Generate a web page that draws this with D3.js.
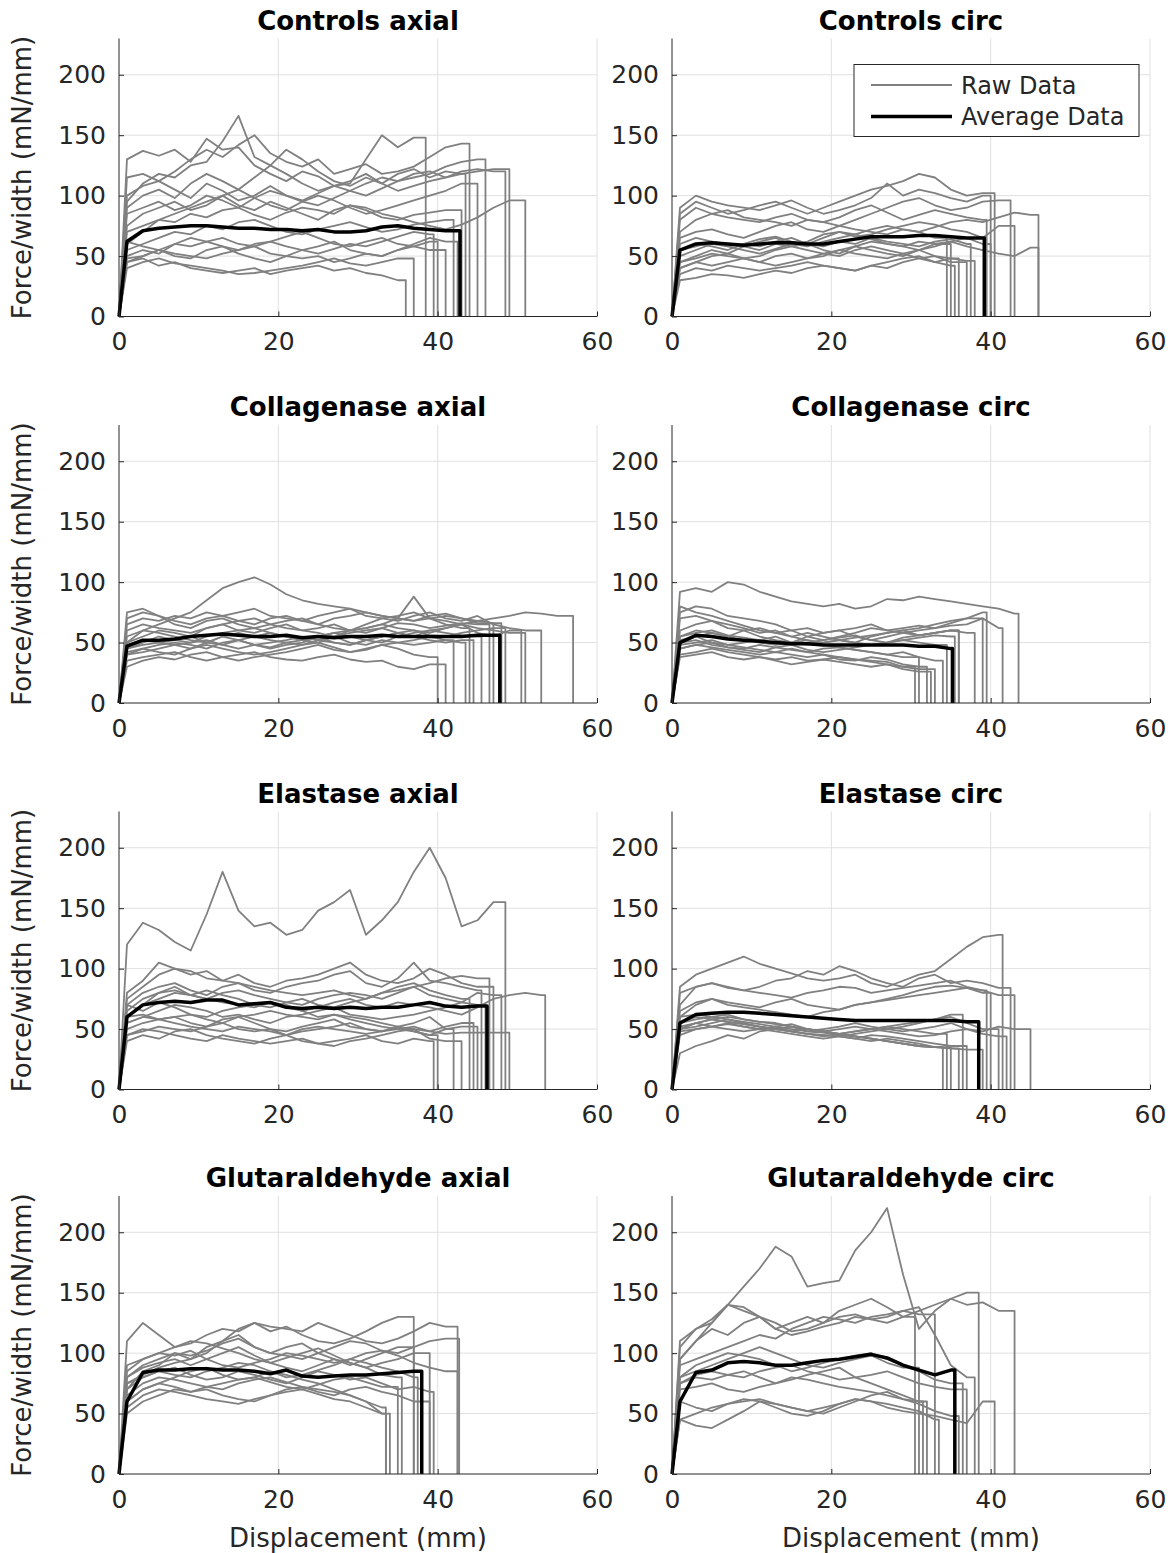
<!DOCTYPE html>
<html>
<head>
<meta charset="utf-8">
<script src="https://cdn.jsdelivr.net/npm/d3@7"></script>
<style>
  body { margin: 0; background: #fff; }
  text { font-family: "DejaVu Sans", sans-serif; fill: #262626; }
</style>
</head>
<body>
<div id="chart"></div>
<script>
// panel titles, ticks
var titles = [
  "Controls axial", "Controls circ",
  "Collagenase axial", "Collagenase circ",
  "Elastase axial", "Elastase circ",
  "Glutaraldehyde axial", "Glutaraldehyde circ"
];
var xTicks = [0, 20, 40, 60];
var yTicks = [0, 50, 100, 150, 200];

// each curve: [end displacement, force values at x = 1, 3, 5, ...]
var controlsAxialRaw = [
  [38.5, [130,137,133,138,128,147,138,140,125,118,112,120,116,108,110,130,150,140,148]],
  [44, [115,118,112,120,130,138,132,142,150,135,128,124,130,118,122,126,118,120,124,132,140,143]],
  [49, [95,110,118,115,125,128,145,166,132,125,138,130,120,112,108,115,110,118,122,115,120,118,120,122,118]],
  [51, [60,70,80,85,90,95,100,92,88,95,90,85,80,88,92,90,85,82,78,75,72,76,82,90,96,99]],
  [46, [100,108,112,105,98,110,104,96,100,108,100,95,92,98,104,100,106,112,115,118,124,128,130]],
  [48.5, [85,90,95,88,92,100,96,90,98,104,100,96,102,108,104,110,115,112,118,120,115,120,122,120,121]],
  [43, [70,75,80,78,85,82,88,90,84,80,86,90,88,85,92,88,82,80,84,86,88,90]],
  [42, [55,60,65,70,68,75,72,78,80,75,70,68,72,75,78,74,70,72,76,78,80]],
  [41, [50,55,52,60,58,62,65,60,58,62,66,70,65,60,58,62,65,60,58,55,60]],
  [40, [48,50,55,52,50,48,52,55,58,52,50,48,50,45,48,52,50,55,58,62]],
  [36, [45,48,42,45,40,38,36,38,40,35,38,40,42,38,40,36,34,30]],
  [37, [40,45,48,44,42,40,38,35,36,38,40,42,45,48,44,42,45,48,50]],
  [39.5, [62,58,55,60,65,62,58,55,60,62,58,55,52,56,60,58,62,66,70,68]],
  [42.5, [45,50,55,50,48,55,58,52,48,45,50,55,58,62,55,52,50,55,60,65,62,60]],
  [45, [75,85,90,95,88,92,100,105,98,92,88,95,100,96,90,85,88,92,96,100,104,110,112]],
  [43.5, [90,100,105,98,110,118,112,105,115,125,118,110,104,108,112,118,110,104,108,112,115,118]]
];
var controlsAxialAvg = [42.8, [62,71,73,74,75,75,74,73,73,72,72,71,72,70,70,71,74,75,73,72,71,71]];

var controlsCircRaw = [
  [40.5, [85,95,90,85,88,92,95,90,85,90,95,100,105,108,112,118,115,105,100,102]],
  [40, [90,100,95,92,90,88,92,96,90,85,88,92,98,110,100,105,102,98,95,100]],
  [46, [60,65,62,58,60,64,66,62,60,65,70,68,72,75,72,70,74,78,80,78,82,86,84]],
  [43, [55,58,62,60,58,62,65,60,62,68,70,66,68,72,75,78,76,72,70,65,75,86]],
  [46, [40,45,50,52,48,50,55,58,60,55,52,58,62,60,58,55,60,62,58,55,52,50,57]],
  [35, [50,55,60,58,55,52,56,60,58,62,65,68,64,60,58,62,60,55]],
  [36, [45,48,52,50,48,45,50,52,48,50,55,52,50,48,52,55,50,48]],
  [38, [35,40,38,42,40,38,40,42,45,42,40,38,42,45,48,50,45,48,46]],
  [37, [30,32,35,34,32,35,38,36,40,42,40,38,42,40,45,48,50,45,48]],
  [39.5, [70,80,85,82,80,78,82,85,80,78,82,88,92,86,80,84,88,85,82,80]],
  [34.5, [80,90,85,88,82,80,78,75,80,78,75,72,70,68,72,70,65]],
  [42.5, [65,70,72,68,65,70,75,78,72,70,75,80,85,90,95,98,92,88,90,95,96,88]],
  [35.5, [45,50,55,52,58,55,60,58,55,52,50,55,58,55,52,48,45,42]],
  [37.5, [55,60,58,55,60,58,62,65,60,58,62,60,65,62,60,58,62,64,60]],
  [40, [40,45,42,45,48,45,42,45,48,52,55,58,55,52,50,55,58,62,65,60]]
];
var controlsCircAvg = [39.2, [55,60,61,60,59,60,61,61,60,60,62,64,66,66,66,67,67,66,65,65]];

var collagenaseAxialRaw = [
  [48, [50,60,65,70,75,85,95,100,104,98,90,85,82,80,78,75,72,70,68,70,72,70,68,66]],
  [57, [45,50,55,52,50,55,58,60,62,58,55,52,55,58,60,62,65,62,60,58,62,65,68,70,72,75,74,72,70]],
  [53, [70,75,72,68,65,70,72,75,78,72,70,68,72,75,78,72,70,68,72,75,70,68,72,65,62,60,58]],
  [51, [75,78,72,65,62,68,70,65,62,65,68,70,65,62,60,65,70,72,75,70,68,65,62,60,58,56]],
  [40, [40,45,42,40,45,48,45,42,40,42,45,48,50,46,42,44,48,45,40,38]],
  [41, [35,38,40,42,38,35,38,40,42,38,36,35,38,40,36,34,35,30,28,32,30]],
  [44, [50,55,60,58,55,62,65,60,58,62,65,60,58,55,60,62,65,70,88,70,65,62]],
  [45.5, [45,48,50,52,55,50,48,52,55,58,55,52,50,55,58,60,62,58,55,60,58,56,55]],
  [46.5, [60,65,62,60,58,62,65,68,70,65,62,60,62,65,60,58,62,66,65,62,64,66,65,64]],
  [48.5, [40,42,45,48,50,52,48,45,48,50,52,55,52,50,48,52,55,58,60,56,55,58,60,62,61]],
  [42, [55,60,58,55,52,50,55,58,55,52,50,48,52,55,50,48,52,50,48,50,52]],
  [50.5, [48,52,50,48,45,50,55,52,48,45,48,50,55,58,55,52,50,55,58,60,62,65,58,55,60,58]],
  [43.5, [30,35,38,36,40,42,38,35,38,40,42,45,48,44,42,45,48,50,52,55,52,50]],
  [47, [65,70,68,72,70,75,72,68,65,70,72,68,65,70,72,75,72,70,68,72,74,70,66,64]],
  [44.5, [42,45,48,50,48,45,50,52,48,46,50,52,55,50,48,52,55,58,55,52,50,52,51]]
];
var collagenaseAxialAvg = [47.8, [47,52,52,53,55,56,57,56,55,55,56,54,55,54,55,55,56,55,55,55,55,55,56,56]];

var collagenaseCircRaw = [
  [43.5, [92,95,92,100,98,92,88,84,82,80,82,78,80,86,85,88,86,84,82,80,78,74]],
  [39.5, [75,80,78,72,70,68,65,60,62,58,60,62,65,60,62,64,62,66,70,75]],
  [41.5, [60,65,68,62,60,55,52,50,55,58,60,55,52,55,58,60,62,64,65,70,62]],
  [36, [55,58,60,56,54,52,50,48,50,52,54,56,52,50,54,56,58,60]],
  [38, [70,72,68,65,62,58,60,55,58,55,52,50,55,58,60,56,58,60,58]],
  [34, [50,52,48,46,45,48,46,44,42,45,46,44,42,40,42,38,35]],
  [32, [45,48,46,44,42,40,42,40,38,40,36,35,38,36,32,30]],
  [33, [40,42,45,42,40,38,36,38,35,36,38,36,34,32,30,28,25]],
  [30.5, [48,50,52,48,46,44,42,45,42,40,38,36,35,34,30,28]],
  [31, [55,60,58,55,52,50,48,50,52,48,46,44,42,40,38,36]],
  [34.5, [52,55,50,48,50,52,55,50,48,50,52,50,48,50,52,50,48]],
  [35.5, [45,48,50,46,44,42,46,48,44,42,44,46,48,50,52,54,56,55]],
  [39, [80,75,72,68,64,60,58,55,52,50,52,54,56,58,60,62,65,68,70,72]],
  [32.5, [38,40,42,38,36,38,35,32,34,36,34,32,30,32,28,26,26]],
  [36, [50,55,58,55,60,62,58,60,55,52,55,58,62,60,58,56,58,60]]
];
var collagenaseCircAvg = [35.2, [50,56,55,53,52,51,50,49,49,48,48,48,48,48,48,47,47,45]];

var elastaseAxialRaw = [
  [48.5, [120,138,132,122,115,145,180,148,135,138,128,132,148,155,165,128,140,155,180,200,175,135,140,155]],
  [53.5, [60,70,80,85,78,75,72,70,68,72,70,65,68,72,75,70,68,72,70,68,65,62,68,75,78,80,78]],
  [47, [75,85,95,100,98,92,90,95,88,85,90,92,95,100,105,95,90,88,92,100,95,88,85,80]],
  [49, [55,60,58,55,52,50,48,52,50,48,45,50,52,50,48,46,48,50,52,48,46,47,47,47,47]],
  [39.5, [45,50,48,45,42,40,45,42,40,38,40,42,38,40,42,45,40,38,42,40]],
  [44, [60,70,75,80,78,82,78,75,70,68,72,75,70,68,72,75,80,85,88,82,78,75]],
  [45.5, [70,80,85,88,82,78,85,88,82,80,85,88,90,95,98,88,85,92,105,90,88,85,82]],
  [43, [40,45,42,48,50,45,42,40,38,42,45,40,38,36,40,42,45,48,50,42,40,38]],
  [42, [50,55,58,60,55,52,58,60,55,50,48,52,55,58,52,50,48,52,55,60,50]],
  [46.5, [65,75,80,82,78,75,80,82,78,75,72,70,75,78,80,78,75,80,85,88,92,94,92,88]],
  [48, [55,60,65,70,68,65,60,62,58,55,60,62,65,68,62,60,58,60,62,65,68,72,80,78]],
  [44.5, [60,62,58,60,62,58,55,60,62,65,62,60,58,62,60,58,55,52,50,48,52,55,50]],
  [45, [45,48,52,50,48,52,55,50,48,50,45,48,50,52,55,50,48,52,48,45,50,52,48]],
  [40, [70,65,72,68,62,60,65,68,70,72,68,65,60,62,58,55,52,50,48,45]],
  [46, [80,90,105,100,95,98,90,88,85,82,80,78,80,82,78,75,80,82,85,78,75,72,70]]
];
var elastaseAxialAvg = [46.2, [60,70,72,73,72,74,74,70,71,72,68,67,68,67,68,67,68,68,70,72,69,68,69]];

var elastaseCircRaw = [
  [41.5, [85,95,100,105,110,104,100,96,92,90,92,95,88,85,90,95,98,108,118,126,128]],
  [42.5, [70,85,88,84,82,85,90,92,98,95,102,98,92,88,85,92,95,88,90,88,84,76]],
  [45, [30,36,40,45,42,48,50,52,48,50,52,55,52,50,48,50,52,55,50,48,52,50,54]],
  [40, [60,70,75,72,70,68,72,75,70,68,66,70,72,75,78,82,85,86,84,80]],
  [43, [65,72,75,70,68,66,64,62,60,64,66,70,72,74,76,78,80,82,84,82,78,75]],
  [34, [55,60,58,56,54,52,50,48,46,45,44,42,40,42,40,38,35]],
  [35, [50,55,58,56,54,52,50,48,46,44,46,44,42,40,38,36,35,34]],
  [36, [60,62,60,58,56,54,52,50,48,47,45,44,42,40,38,36,35,34]],
  [37, [45,50,52,54,52,50,52,48,46,45,44,42,45,44,42,40,38,36,35]],
  [39, [55,58,60,62,58,56,54,52,50,48,46,44,42,40,38,36,35,34,33,32]],
  [41, [52,55,58,60,58,56,55,52,50,48,46,48,50,52,54,56,58,60,55,50,48]],
  [42, [50,55,52,50,48,50,52,54,50,48,50,52,50,48,46,44,45,48,50,46,44]],
  [34.5, [50,52,55,58,55,52,50,48,50,48,46,48,50,52,50,48,46]],
  [36.5, [48,50,52,55,52,50,48,46,44,42,44,46,48,50,52,55,58,62,58]],
  [39.5, [80,85,88,85,82,80,78,76,80,82,85,84,80,82,84,86,88,90,85,82]]
];
var elastaseCircAvg = [38.5, [55,62,63,64,64,63,62,61,60,59,58,57,57,57,57,57,57,57,56,56]];

var glutarAxialRaw = [
  [42.5, [110,125,115,105,108,115,120,118,125,122,120,118,125,120,115,110,108,112,118,125,122,120]],
  [37, [70,85,90,100,95,105,110,120,125,118,122,115,110,108,112,118,125,130,132]],
  [42.7, [80,90,95,100,98,102,108,112,105,100,98,95,100,105,110,108,102,100,105,110,112,95]],
  [39.5, [75,80,85,88,82,78,80,85,82,78,75,80,85,82,78,80,75,70,72,68]],
  [39, [60,70,75,72,68,70,65,62,60,65,70,72,68,65,70,72,68,65,60,55]],
  [33.5, [65,75,80,78,75,72,70,75,78,80,76,72,70,68,65,60,55]],
  [34, [55,65,70,68,65,62,60,58,62,65,68,70,66,62,60,55,50]],
  [35.5, [80,88,92,95,90,95,100,105,98,92,88,85,90,95,92,88,82,80]],
  [35, [50,60,65,70,68,72,75,78,80,76,72,70,74,78,80,76,72,70]],
  [42.5, [90,95,100,98,102,95,90,88,92,95,100,98,95,92,95,100,102,98,92,88,85,90]],
  [37.5, [70,80,85,82,80,85,88,92,90,85,80,82,86,90,95,92,88,85,80]],
  [39, [85,95,100,105,110,108,104,100,95,92,96,100,104,98,92,88,92,95,100,105]],
  [33.5, [60,70,75,80,85,88,82,78,80,85,82,78,75,70,65,60,50]],
  [37, [75,82,88,92,95,100,110,115,105,100,105,108,100,95,90,95,100,105,110]]
];
var glutarAxialAvg = [38, [60,84,86,86,87,87,86,86,85,83,86,81,80,81,82,82,83,84,85]];

var glutarCircRaw = [
  [38.5, [105,120,128,140,155,170,188,180,155,158,160,185,200,220,165,120,135,145,150]],
  [43, [95,110,120,115,125,130,120,115,118,122,125,130,128,125,130,135,140,145,140,142,135,122]],
  [30.5, [110,120,125,140,135,130,120,125,130,125,135,140,145,138,130]],
  [33, [95,110,125,140,138,130,125,118,120,125,130,132,128,130,135,132,125]],
  [40.5, [45,40,38,45,52,60,55,50,48,52,58,62,60,55,52,50,48,45,42,60,70]],
  [31, [80,85,90,95,100,105,100,95,90,88,92,95,98,92,88,75]],
  [31.5, [75,80,78,82,85,80,75,78,82,85,88,80,75,70,65,60]],
  [32, [70,72,75,70,68,72,75,80,78,75,72,70,68,65,62,60]],
  [33.5, [60,55,52,58,62,60,58,55,52,55,58,62,60,58,55,52,45]],
  [36, [45,50,55,58,60,62,58,55,52,50,55,60,65,68,62,58,52,48]],
  [36.5, [80,90,95,100,98,95,90,85,88,92,95,98,100,95,90,85,78,75]],
  [37, [75,82,85,82,80,85,88,90,85,82,78,80,82,85,80,75,72,70,65]],
  [38, [90,95,100,105,110,115,112,120,125,130,128,125,130,132,135,138,115,90,80]]
];
var glutarCircAvg = [35.5, [60,84,86,92,93,92,90,90,92,94,95,97,99,96,90,86,82,86]];

var rawSets = [controlsAxialRaw, controlsCircRaw, collagenaseAxialRaw, collagenaseCircRaw,
               elastaseAxialRaw, elastaseCircRaw, glutarAxialRaw, glutarCircRaw];
var avgSets = [controlsAxialAvg, controlsCircAvg, collagenaseAxialAvg, collagenaseCircAvg,
               elastaseAxialAvg, elastaseCircAvg, glutarAxialAvg, glutarCircAvg];

var width = 1174;
var height = 1553;
var colLeft = [119, 672];
var rowBottom = [316.5, 703, 1089.5, 1474];
var plotW = 478;
var plotH = 278;
var tickLen = 5;

var svg = d3.select("#chart").append("svg")
  .attr("width", width)
  .attr("height", height);
svg.append("rect").attr("width", width).attr("height", height).attr("fill", "#fff");

// turn [end, values] into points, dropping to zero at the end
function toPoints(curve) {
  var end = curve[0], vals = curve[1];
  var pts = [[0, 0]];
  var last = 0;
  vals.forEach(function(v, i) {
    var x = 1 + 2 * i;
    if (x < end) { pts.push([x, v]); last = v; }
  });
  pts.push([end, last]);
  pts.push([end, 0]);
  return pts;
}

titles.forEach(function(title, i) {
  var col = i % 2;
  var row = Math.floor(i / 2);
  var x0 = colLeft[col];
  var y0 = rowBottom[row];

  var xScale = d3.scaleLinear().domain([0, 60]).range([x0, x0 + plotW]);
  var yScale = d3.scaleLinear().domain([0, 230]).range([y0, y0 - plotH]);
  var g = svg.append("g");

  // grid
  g.selectAll(".gx").data(xTicks.slice(1)).enter().append("line")
    .attr("x1", function(d) { return xScale(d); })
    .attr("x2", function(d) { return xScale(d); })
    .attr("y1", y0).attr("y2", y0 - plotH)
    .attr("stroke", "#e0e0e0").attr("stroke-width", 1);
  g.selectAll(".gy").data(yTicks.slice(1)).enter().append("line")
    .attr("x1", x0).attr("x2", x0 + plotW)
    .attr("y1", function(d) { return yScale(d); })
    .attr("y2", function(d) { return yScale(d); })
    .attr("stroke", "#e0e0e0").attr("stroke-width", 1);

  var line = d3.line()
    .x(function(d) { return xScale(d[0]); })
    .y(function(d) { return yScale(d[1]); });

  g.selectAll(".raw").data(rawSets[i]).enter().append("path")
    .attr("d", function(d) { return line(toPoints(d)); })
    .attr("fill", "none")
    .attr("stroke", "#808080")
    .attr("stroke-width", 1.8)
    .attr("stroke-linejoin", "round");

  g.append("path")
    .attr("d", line(toPoints(avgSets[i])))
    .attr("fill", "none")
    .attr("stroke", "#000")
    .attr("stroke-width", 3.5)
    .attr("stroke-linejoin", "round");

  // axes
  var xAxis = d3.axisBottom(xScale).tickValues(xTicks).tickSize(-tickLen).tickPadding(16);
  var yAxis = d3.axisLeft(yScale).tickValues(yTicks).tickSize(-tickLen).tickPadding(13);

  var gx = g.append("g").attr("transform", "translate(0," + y0 + ")").call(xAxis);
  gx.select(".domain").attr("d", "M" + x0 + ",0H" + (x0 + plotW)).attr("stroke", "#262626");
  gx.selectAll(".tick line").attr("stroke", "#262626");
  gx.selectAll(".tick text").attr("font-size", 25).attr("font-family", "DejaVu Sans").attr("fill", "#262626");

  var gy = g.append("g").attr("transform", "translate(" + x0 + ",0)").call(yAxis);
  gy.select(".domain").attr("d", "M0," + y0 + "V" + (y0 - plotH)).attr("stroke", "#262626");
  gy.selectAll(".tick line").attr("stroke", "#262626");
  gy.selectAll(".tick text").attr("font-size", 25).attr("font-family", "DejaVu Sans").attr("fill", "#262626");

  g.append("text")
    .attr("x", x0 + plotW / 2)
    .attr("y", y0 - plotH - 9)
    .attr("text-anchor", "middle")
    .attr("font-size", 26)
    .attr("font-weight", "bold")
    .style("fill", "#000")
    .text(title);

  if (col === 0) {
    g.append("text")
      .attr("transform", "translate(31," + (y0 - plotH / 2) + ")rotate(-90)")
      .attr("text-anchor", "middle")
      .attr("font-size", 26)
      .text("Force/width (mN/mm)");
  }
  if (row === 3) {
    g.append("text")
      .attr("x", x0 + plotW / 2)
      .attr("y", y0 + 73)
      .attr("text-anchor", "middle")
      .attr("font-size", 26)
      .text("Displacement (mm)");
  }

  if (i === 1) {
    var lg = g.append("g");
    lg.append("rect")
      .attr("x", 854).attr("y", 64.5).attr("width", 285).attr("height", 72)
      .attr("fill", "#fff").attr("stroke", "#262626").attr("stroke-width", 1);
    lg.append("line").attr("x1", 871).attr("x2", 952).attr("y1", 85).attr("y2", 85)
      .attr("stroke", "#808080").attr("stroke-width", 1.8);
    lg.append("line").attr("x1", 871).attr("x2", 952).attr("y1", 116.5).attr("y2", 116.5)
      .attr("stroke", "#000").attr("stroke-width", 3.5);
    lg.append("text").attr("x", 961).attr("y", 93.5).attr("font-size", 24).text("Raw Data");
    lg.append("text").attr("x", 961).attr("y", 125).attr("font-size", 24).text("Average Data");
  }
});
</script>
</body>
</html>
